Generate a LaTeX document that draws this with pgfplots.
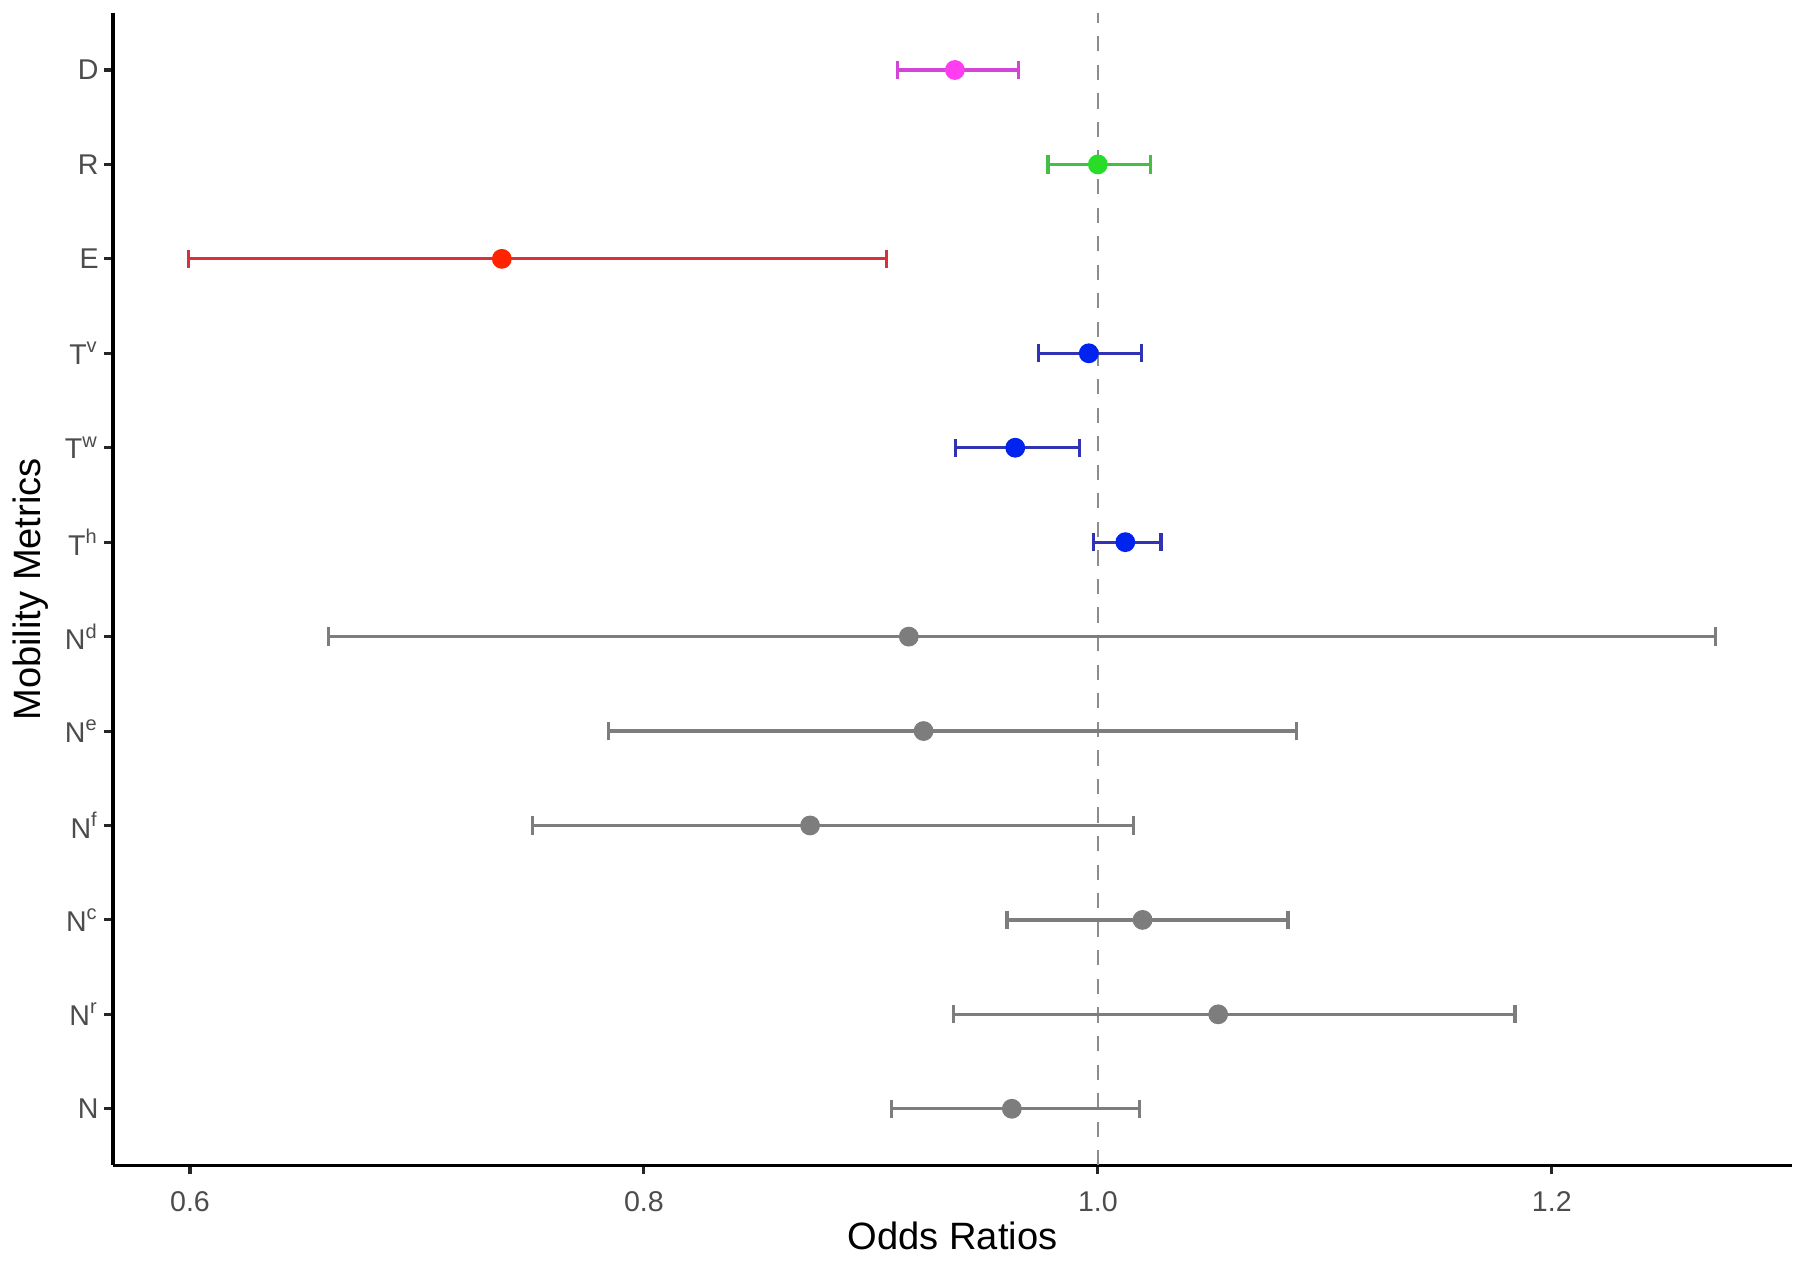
\documentclass[border=0pt]{standalone}
\usepackage{fontspec}
\setmainfont{Liberation Sans}
\usepackage{pgfplots}
\usepackage{pgfplotstable}
\pgfplotsset{compat=1.18}
\definecolor{ptD}{RGB}{255,60,240}
\definecolor{barD}{RGB}{210,70,215}
\definecolor{ptR}{RGB}{40,220,40}
\definecolor{barR}{RGB}{70,190,70}
\definecolor{ptE}{RGB}{255,35,0}
\definecolor{barE}{RGB}{215,50,60}
\definecolor{ptT}{RGB}{0,35,240}
\definecolor{barT}{RGB}{50,50,180}
\definecolor{ptN}{RGB}{125,125,125}
\definecolor{barN}{RGB}{125,125,125}

% y = row position (N at bottom), or = odds ratio, lo/hi = CI
\pgfplotstableread{
y or lo hi
12 0.937 0.9116 0.965
}\tabD
\pgfplotstableread{
y or lo hi
11 1.000 0.978 1.0232
}\tabR
\pgfplotstableread{
y or lo hi
10 0.7374 0.5995 0.907
}\tabE
\pgfplotstableread{
y or lo hi
9 0.996 0.9737 1.0192
8 0.9636 0.9374 0.992
7 1.0121 0.998 1.0278
}\tabT
\pgfplotstableread{
y or lo hi
6 0.9167 0.661 1.2722
5 0.9232 0.7843 1.0874
4 0.8732 0.751 1.0157
3 1.0197 0.960 1.0838
2 1.053 0.9364 1.1838
1 0.9621 0.909 1.0182
}\tabN

\pgfplotsset{
  orplot/.style 2 args={only marks, mark=*, mark size=2.4pt,
    mark options={draw=#1, fill=#1},
    error bars/.cd, x dir=both, x explicit, error mark=|,
    error bar style={draw=#2, line width=0.85pt},
    error mark options={draw=#2, line width=0.85pt, mark size=2.4pt}},
}

\begin{document}
\begin{tikzpicture}
\begin{axis}[
  scale only axis, width=441pt, height=302.5pt,
  xmin=0.566, xmax=1.306, ymin=0.4, ymax=12.6,
  axis x line*=bottom, axis y line*=left,
  axis line style={-, line width=0.9pt, black},
  xtick={0.6,0.8,1.0,1.2}, xticklabels={0.6,0.8,1.0,1.2},
  ytick={1,...,12},
  yticklabels={N, N\textsuperscript{r}, N\textsuperscript{c}, N\textsuperscript{f}, N\textsuperscript{e}, N\textsuperscript{d}, T\textsuperscript{h}, T\textsuperscript{w}, T\textsuperscript{v}, E, R, D},
  xtick pos=bottom, ytick pos=left,
  tick align=outside, major tick length=2.2pt,
  tick style={black!85, line width=0.8pt},
  ticklabel style={font=\fontsize{7.5}{9}\selectfont, text=black!70},
  yticklabel style={xshift=2pt},
  xticklabel style={yshift=-1pt},
  xlabel={Odds Ratios}, ylabel={Mobility Metrics},
  label style={font=\fontsize{10}{12}\selectfont},
  xlabel style={yshift=4pt}, ylabel style={yshift=-2.5pt},
  clip=false,
  after end axis/.code={\path (rel axis cs:0,1) ++(0,3.5pt); \path (rel axis cs:1,0) ++(2pt,0);},
]
\addplot[black!45, line width=0.7pt, dash pattern=on 4pt off 3.5pt] coordinates {(1,0.4) (1,12.6)};
\addplot[orplot={ptD}{barD}] table[x=or, y=y, x error plus expr=\thisrow{hi}-\thisrow{or}, x error minus expr=\thisrow{or}-\thisrow{lo}] {\tabD};
\addplot[orplot={ptR}{barR}] table[x=or, y=y, x error plus expr=\thisrow{hi}-\thisrow{or}, x error minus expr=\thisrow{or}-\thisrow{lo}] {\tabR};
\addplot[orplot={ptE}{barE}] table[x=or, y=y, x error plus expr=\thisrow{hi}-\thisrow{or}, x error minus expr=\thisrow{or}-\thisrow{lo}] {\tabE};
\addplot[orplot={ptT}{barT}] table[x=or, y=y, x error plus expr=\thisrow{hi}-\thisrow{or}, x error minus expr=\thisrow{or}-\thisrow{lo}] {\tabT};
\addplot[orplot={ptN}{barN}] table[x=or, y=y, x error plus expr=\thisrow{hi}-\thisrow{or}, x error minus expr=\thisrow{or}-\thisrow{lo}] {\tabN};
\end{axis}
\end{tikzpicture}
\end{document}
